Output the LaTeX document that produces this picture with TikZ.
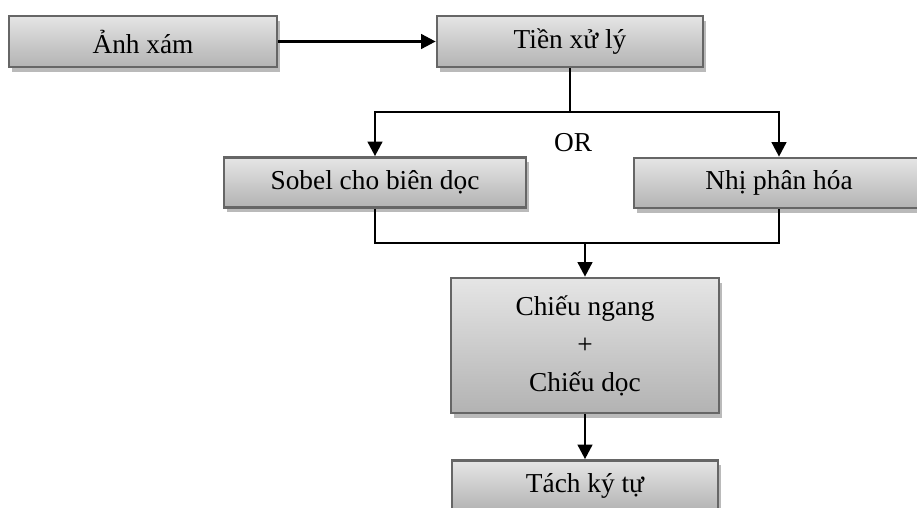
\documentclass[tikz,border=0pt]{standalone}
\usepackage{fontspec}
\setmainfont{Liberation Serif}
\usetikzlibrary{arrows.meta,shadows}
\pgfdeclareverticalshading{boxshade}{100bp}{color(0bp)=(black!40); color(100bp)=(white)}
\tikzset{
  box/.style={draw=black!60, line width=2pt, shading=boxshade, inner sep=0pt,
    drop shadow={shadow xshift=2.5pt, shadow yshift=-3.5pt, fill=black!27, opacity=1},
    font={\fontsize{20.5}{28.5}\selectfont}, align=center},
  conn/.style={line width=2pt, black},
  arr/.style={conn, -{Triangle[width=11pt,length=11pt]}},
  lbl/.style={font={\fontsize{20.5}{24}\selectfont}}
}
\begin{document}
\begin{tikzpicture}[x=0.75pt,y=-0.75pt]
\useasboundingbox (0,0) rectangle (917,507);
\node[box, minimum width=201pt, minimum height=38.25pt] (A) at (143,41.5) {Ảnh xám};
\node[box, minimum width=199.5pt, minimum height=38.25pt] (T) at (570,41.5) {Tiền xử lý};
\node[box, minimum width=226.5pt, minimum height=37.5pt] (S) at (375,182.5) {Sobel cho biên dọc};
\node[box, minimum width=217.5pt, minimum height=37.5pt] (N) at (779,183) {Nhị phân hóa};
\node[box, minimum width=201pt, minimum height=101.25pt] (C) at (585,345.5) {Chiếu ngang\\+\\Chiếu dọc};
\node[box, minimum width=199.5pt, minimum height=38.25pt] (K) at (585,486) {Tách ký tự};
\node[lbl] (OR) at (573,143) {OR};
\coordinate (j1) at (570,112);
\coordinate (j2) at (585,243);
\draw[arr] (A) -- (T);
\draw[conn] (T.south) -- (j1);
\draw[arr] (j1) -| (S.north);
\draw[arr] (j1) -| (N.north);
\draw[conn] (S.south) |- (j2) -| (N.south);
\draw[arr] (j2) -- (C.north);
\draw[arr] (C) -- (K);
\end{tikzpicture}
\end{document}
